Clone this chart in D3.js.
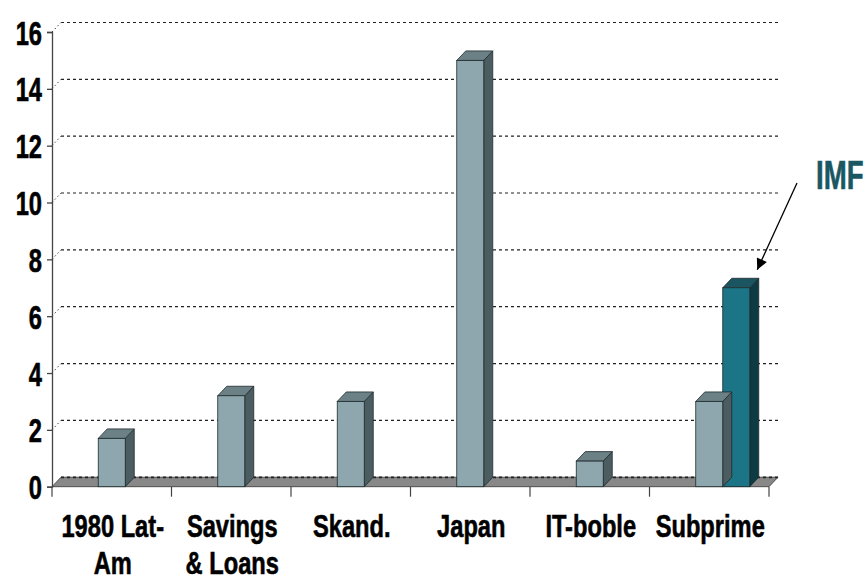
<!DOCTYPE html>
<html><head><meta charset="utf-8">
<script src="https://cdn.jsdelivr.net/npm/d3@7"></script>
<style>
html,body{margin:0;padding:0;background:#fff;}
svg{display:block;}
text{font-family:"Liberation Sans",Arial,sans-serif;font-weight:bold;}
</style></head>
<body>
<svg id="chart" width="864" height="581"></svg>
<script>
const categories = ["1980 Lat-Am", "Savings & Loans", "Skand.", "Japan", "IT-boble", "Subprime"];
const categoryLines = [["1980 Lat-", "Am"], ["Savings", "& Loans"], ["Skand."], ["Japan"], ["IT-boble"], ["Subprime"]];
const seriesHistorical = [1.7, 3.2, 3.0, 15.0, 0.9, 3.0];
const seriesIMF = [null, null, null, null, null, 7.0];
const yTicks = [0, 2, 4, 6, 8, 10, 12, 14, 16];
const annotation = "IMF";

const svg = d3.select("#chart");
const x = d3.scaleBand().domain(categories).range([52, 769]);
const y = d3.scaleLinear().domain([0, 16]).range([486.7, 32]);
const DX = 9, DY = 9.5, BW = 27;

// back wall gridlines
svg.append("g").selectAll("line").data(yTicks).join("line")
  .attr("x1", 52 + DX).attr("x2", 769 + DX)
  .attr("y1", d => y(d) - DY).attr("y2", d => y(d) - DY)
  .attr("stroke", "#222").attr("stroke-width", 1.2).attr("stroke-dasharray", "3,3");
// side wall little dotted connectors
svg.append("g").selectAll("line").data(yTicks.filter(d => d > 0)).join("line")
  .attr("x1", 52).attr("x2", 52 + DX)
  .attr("y1", d => y(d)).attr("y2", d => y(d) - DY)
  .attr("stroke", "#444").attr("stroke-width", 1).attr("stroke-dasharray", "1.5,2.5");

// floor
const fy = y(0);
svg.append("path")
  .attr("d", `M52,${fy} L${52 + DX},${fy - DY} L${769 + DX},${fy - DY} L769,${fy} Z`)
  .attr("fill", "#888888").attr("stroke", "#333").attr("stroke-width", 0.8);
svg.append("line").attr("x1", 52 + DX).attr("x2", 769 + DX)
  .attr("y1", fy - DY + 0.5).attr("y2", fy - DY + 0.5)
  .attr("stroke", "#222").attr("stroke-width", 1.2).attr("stroke-dasharray", "3,3");

// y axis
const yAxis = d3.axisLeft(y).tickValues(yTicks).tickSize(5).tickFormat(d3.format("d"));
const ya = svg.append("g").attr("transform", "translate(52,0)").call(yAxis);
ya.select(".domain").attr("stroke", "#444").attr("stroke-width", 1.3);
ya.selectAll(".tick line").attr("stroke", "#444").attr("stroke-width", 1.3);
ya.selectAll(".tick text").remove();
ya.selectAll(".tick").append("text")
  .attr("x", 0).attr("y", 0)
  .attr("transform", "translate(-10,12) scale(0.74,1.05)")
  .attr("text-anchor", "end").attr("fill", "#000")
  .attr("stroke", "#000").attr("stroke-width", 0.6)
  .attr("font-size", 32)
  .text(d => d);

// x axis ticks at band boundaries
const bounds = categories.map(c => x(c)).concat([769]);
svg.append("g").selectAll("line").data(bounds).join("line")
  .attr("x1", d => d).attr("x2", d => d)
  .attr("y1", fy).attr("y2", fy + 10)
  .attr("stroke", "#444").attr("stroke-width", 1.2);

// x labels
const xl = svg.append("g").selectAll("g").data(categories).join("g")
  .attr("transform", c => `translate(${x(c) + x.bandwidth() / 2 + 1},0)`);
xl.each(function(c, i) {
  const g = d3.select(this);
  categoryLines[i].forEach((line, k) => {
    g.append("text")
      .attr("transform", `translate(0,${536.5 + k * 37.5}) scale(0.74,1.0)`)
      .attr("text-anchor", "middle").attr("font-size", 32).attr("fill", "#000")
      .attr("stroke", "#000").attr("stroke-width", 0.6)
      .text(line);
  });
});

// 3D bar drawing
function bar3d(g, x0, v, cFront, cTop, cSide) {
  const yt = y(v), yb = y(0);
  g.append("path").attr("d", `M${x0 + BW},${yb} L${x0 + BW + DX},${yb - DY} L${x0 + BW + DX},${yt - DY} L${x0 + BW},${yt} Z`)
    .attr("fill", cSide).attr("stroke", "#1e2a2c").attr("stroke-width", 0.8);
  g.append("path").attr("d", `M${x0},${yt} L${x0 + DX},${yt - DY} L${x0 + BW + DX},${yt - DY} L${x0 + BW},${yt} Z`)
    .attr("fill", cTop).attr("stroke", "#1e2a2c").attr("stroke-width", 0.8);
  g.append("rect").attr("x", x0).attr("y", yt).attr("width", BW).attr("height", yb - yt)
    .attr("fill", cFront).attr("stroke", "#1e2a2c").attr("stroke-width", 0.8);
}
const bars = svg.append("g");
categories.forEach((c, i) => {
  const cx = x(c) + x.bandwidth() / 2;
  if (seriesIMF[i] != null) bar3d(bars, cx + BW / 2, seriesIMF[i], "#1b7586", "#1b5561", "#0e3a43");
  if (seriesHistorical[i] != null) bar3d(bars, cx - BW / 2, seriesHistorical[i], "#8ea6ad", "#6b8186", "#4b5d61");
});

// annotation
svg.append("defs").append("marker").attr("id", "ah")
  .attr("viewBox", "0 0 10 10").attr("refX", 10).attr("refY", 5)
  .attr("markerWidth", 13).attr("markerHeight", 11).attr("markerUnits", "userSpaceOnUse")
  .attr("orient", "auto")
  .append("path").attr("d", "M0,0 L10,5 L0,10 Z").attr("fill", "#000");
const subCx = x("Subprime") + x.bandwidth() / 2 + BW;
svg.append("line").attr("x1", 797).attr("y1", 183)
  .attr("x2", subCx + 21).attr("y2", y(seriesIMF[5]) - 18)
  .attr("stroke", "#000").attr("stroke-width", 1.3).attr("marker-end", "url(#ah)");
svg.append("text").attr("transform", "translate(816,189) scale(0.69,1.02)")
  .attr("font-size", 40).attr("fill", "#1a5763")
  .attr("stroke", "#1a5763").attr("stroke-width", 0.6).text(annotation);
</script>
</body></html>
